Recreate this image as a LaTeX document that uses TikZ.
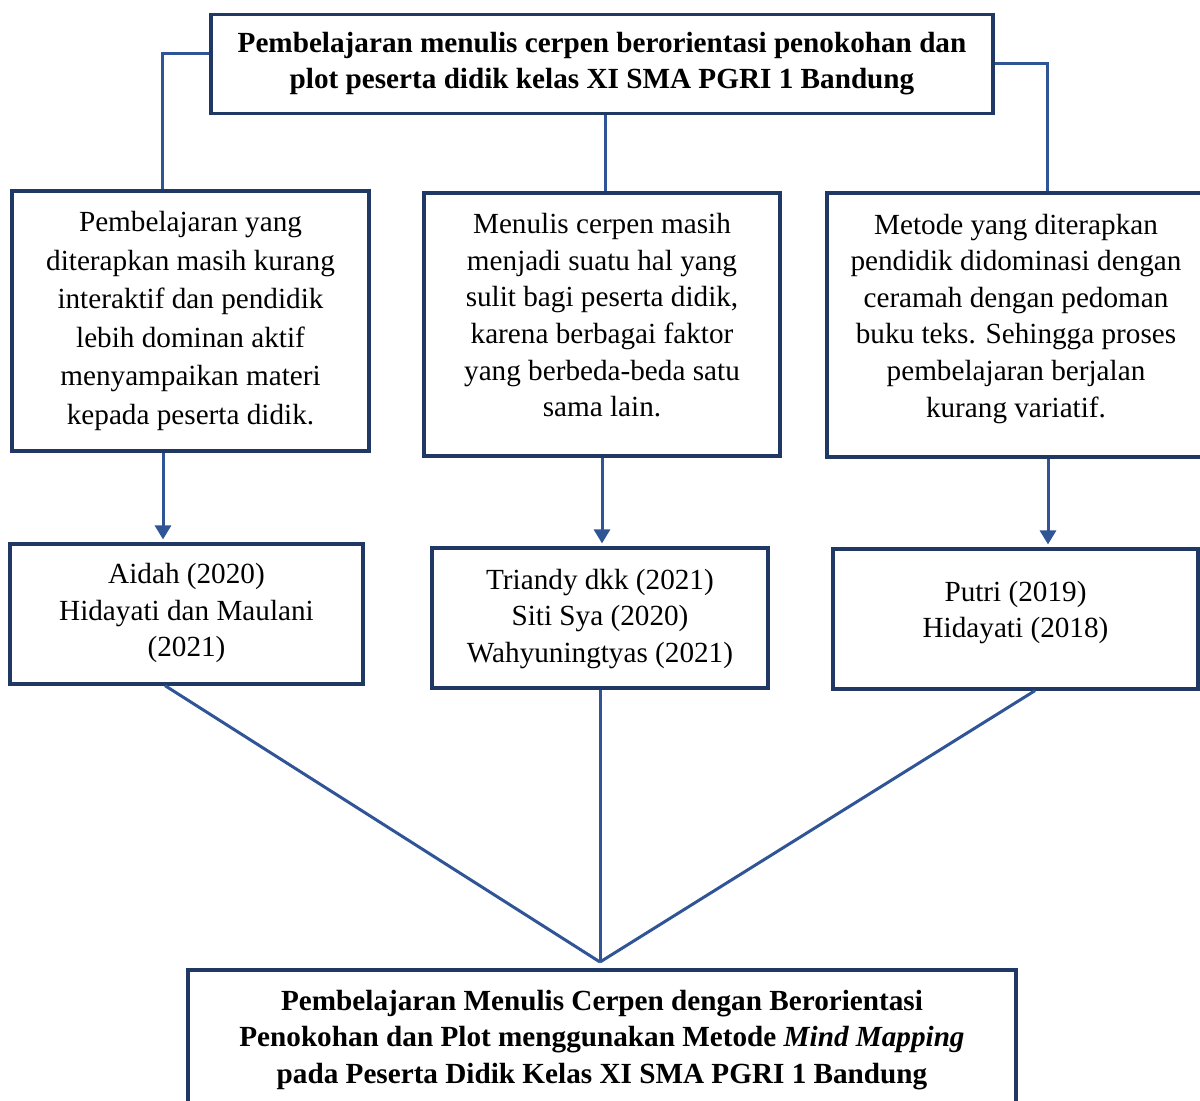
\documentclass[tikz,border=0pt]{standalone}
\usepackage{fontspec}
\setmainfont{Liberation Serif}
\usepackage{xcolor}
\definecolor{vizBorder}{HTML}{1F3864}
\definecolor{vizLink}{HTML}{2F5597}
\usetikzlibrary{arrows.meta}
\tikzset{
  box/.style={draw=vizBorder, line width=1.6pt, align=center, inner sep=0pt,
    font=\fontsize{14.6}{18.3}\selectfont},
  link/.style={draw=vizLink, line width=1.5pt},
  arrowlink/.style={link, -{Triangle[width=8pt,length=7pt]}, shorten >=1.5pt}
}

\begin{document}
\begin{tikzpicture}[x=0.5pt, y=-0.5pt]
  \useasboundingbox (0,0) rectangle (1200,1100);
  \node[box, minimum width=391pt, minimum height=49.5pt, font=\bfseries\fontsize{14.6}{18}\selectfont] (topic) at (602,64)
    {Pembelajaran menulis cerpen berorientasi penokohan dan\\plot peserta didik kelas XI SMA PGRI 1 Bandung};
  \node[box, minimum width=178.5pt, minimum height=130pt, font=\fontsize{14.6}{19.3}\selectfont] (probA) at (190.5,321)
    {Pembelajaran yang\\diterapkan masih kurang\\interaktif dan pendidik\\lebih dominan aktif\\menyampaikan materi\\kepada peserta didik.};
  \node[box, minimum width=178pt, minimum height=131.5pt] (probB) at (602,324.5)
    {Menulis cerpen masih\\menjadi suatu hal yang\\sulit bagi peserta didik,\\karena berbagai faktor\\yang berbeda-beda satu\\sama lain.\\[-8.8pt]};
  \node[box, minimum width=189pt, minimum height=132pt] (probC) at (1016,325)
    {Metode yang diterapkan\\pendidik didominasi dengan\\ceramah dengan pedoman\\buku teks. Sehingga proses\\pembelajaran berjalan\\kurang variatif.\\[-8.8pt]};
  \node[box, minimum width=176.5pt, minimum height=70pt] (refA) at (186.5,614)
    {Aidah (2020)\\Hidayati dan Maulani\\(2021)\\[-14.3pt]};
  \node[box, minimum width=168pt, minimum height=70pt] (refB) at (600,618)
    {Triandy dkk (2021)\\Siti Sya (2020)\\Wahyuningtyas (2021)\\[-15.8pt]};
  \node[box, minimum width=182.5pt, minimum height=70pt] (refC) at (1015.5,619)
    {Putri (2019)\\Hidayati (2018)\\[-8.8pt]};
  \node[box, minimum width=414pt, minimum height=70pt, font=\bfseries\fontsize{14.6}{18.2}\selectfont] (goal) at (602,1040)
    {Pembelajaran Menulis Cerpen dengan Berorientasi\\Penokohan dan Plot menggunakan Metode \textit{Mind Mapping}\\pada Peserta Didik Kelas XI SMA PGRI 1 Bandung};
  \coordinate (meet) at (600,962);
  % topic to problems
  \draw[link] ([yshift=5.5pt]topic.west) -| ([xshift=-14.25pt]probA.north);
  \draw[link] ([xshift=1.5pt]topic.south) -- ([xshift=1.5pt]topic.south |- probB.north);
  \draw[link] ([yshift=0.5pt]topic.east) -| ([xshift=15.5pt]probC.north);
  % problems to references
  \draw[arrowlink] ([xshift=-13.75pt]probA.south) -- ([xshift=-13.75pt]probA.south |- refA.north);
  \draw[arrowlink] (probB.south) -- (probB.south |- refB.north);
  \draw[arrowlink] ([xshift=16pt]probC.south) -- ([xshift=16pt]probC.south |- refC.north);
  % references to goal
  \draw[link] ([xshift=-10.75pt]refA.south) -- (meet);
  \draw[link] (refB.south) -- (meet);
  \draw[link] ([xshift=9.75pt]refC.south) -- (meet);
\end{tikzpicture}
\end{document}
